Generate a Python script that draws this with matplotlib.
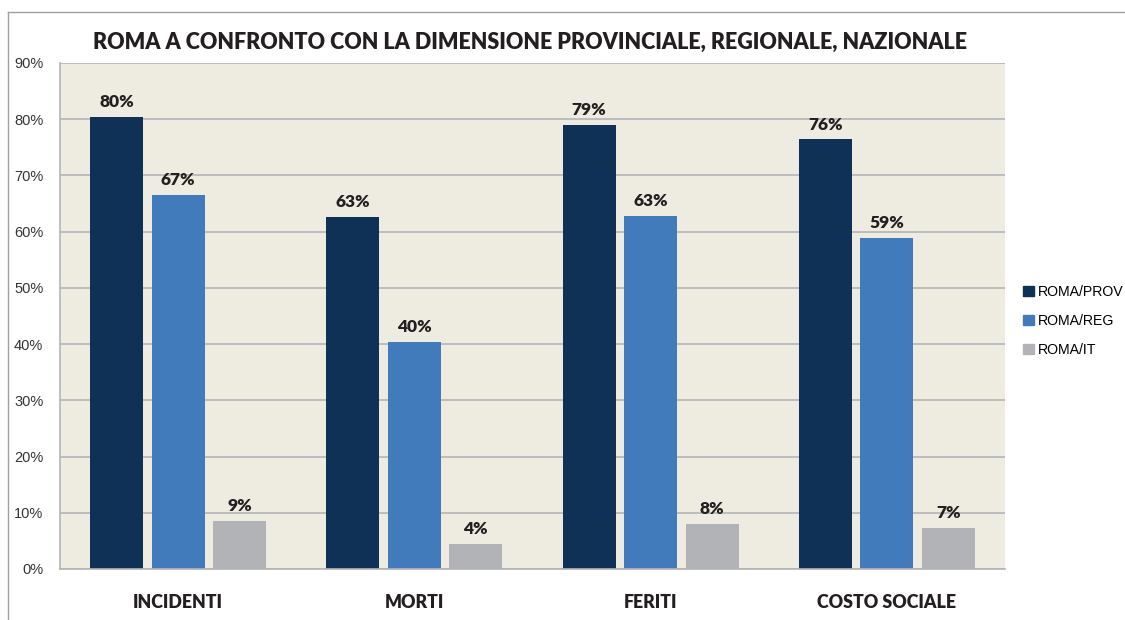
import numpy as np
import matplotlib
matplotlib.use("Agg")
import matplotlib.pyplot as plt
from matplotlib.lines import Line2D

# Dati (percentuali)
categorie = ["INCIDENTI", "MORTI", "FERITI", "COSTO SOCIALE"]
serie = ["ROMA/PROV", "ROMA/REG", "ROMA/IT"]
roma_prov = [80.4, 62.6, 78.9, 76.4]
roma_reg = [66.5, 40.3, 62.8, 58.9]
roma_it = [8.5, 4.4, 8.0, 7.3]
etichette_prov = ["80%", "63%", "79%", "76%"]
etichette_reg = ["67%", "40%", "63%", "59%"]
etichette_it = ["9%", "4%", "8%", "7%"]
tick_y = [0, 10, 20, 30, 40, 50, 60, 70, 80, 90]

colori = ["#0F3156", "#417BBB", "#B2B3B7"]
BG = "#EEEBE1"
GRID = "#B4B4B8"
NARROW = ["Liberation Sans Narrow", "Liberation Sans", "DejaVu Sans"]

fig = plt.figure(figsize=(11.25, 6.2), dpi=100)
ax = fig.add_axes([60 / 1125, 1 - 569 / 620, 945 / 1125, 506 / 620])
ax.set_facecolor(BG)

x = np.arange(len(categorie))
w = 0.224
off = 0.26
valori = [roma_prov, roma_reg, roma_it]
etichette = [etichette_prov, etichette_reg, etichette_it]
for i, (vals, lab, col) in enumerate(zip(valori, etichette, colori)):
    pos = x + (i - 1) * off
    ax.bar(pos, vals, width=w, color=col, zorder=3)
    for xp, v, t in zip(pos, vals, lab):
        ax.annotate(t, (xp, v), xytext=(0, 5), textcoords="offset points",
                    ha="center", va="bottom", fontsize=12.5, fontweight="heavy",
                    color="#231F20", family="Lato")

ax.set_xlim(-0.5, len(categorie) - 0.5)
ax.set_ylim(0, 90)
ax.set_yticks(tick_y)
ax.set_yticklabels([f"{t}%" for t in tick_y], fontsize=10.5, color="#333333",
                   family=NARROW)
ax.set_xticks(x)
ax.set_xticklabels(categorie, fontsize=12.8, fontweight="heavy", color="#231F20",
                   family="Lato")
ax.tick_params(axis="y", length=0, pad=12)
ax.tick_params(axis="x", length=0, pad=18)
ax.yaxis.grid(True, color=GRID, linewidth=1.2, zorder=1)
for s in ["top", "right"]:
    ax.spines[s].set_visible(False)
for s in ["left", "bottom"]:
    ax.spines[s].set_color(GRID)
    ax.spines[s].set_linewidth(1.2)
    ax.spines[s].set_zorder(4)

fig.text(530 / 1125, 1 - 42 / 620,
         "ROMA A CONFRONTO CON LA DIMENSIONE PROVINCIALE, REGIONALE, NAZIONALE",
         ha="center", va="center", fontsize=15.5, fontweight="heavy",
         color="#231F20", family="Lato")

# cornice esterna (solo sopra e a sinistra)
fig.add_artist(Line2D([8 / 1125, 1], [1 - 12 / 620, 1 - 12 / 620],
                      transform=fig.transFigure, color="#A0A0A0", linewidth=1))
fig.add_artist(Line2D([8 / 1125, 8 / 1125], [0, 1 - 12 / 620],
                      transform=fig.transFigure, color="#A0A0A0", linewidth=1))

handles = [plt.Rectangle((0, 0), 1, 1, color=c) for c in colori]
fig.legend(handles, serie, loc="center left",
           bbox_to_anchor=(1023 / 1125, 1 - 321 / 620),
           frameon=False, borderpad=0, borderaxespad=0,
           handlelength=0.75, handleheight=0.75,
           handletextpad=0.3, labelspacing=1.05,
           prop={"family": NARROW, "size": 10.2})

fig.savefig("out.png", dpi=100, facecolor="white")
